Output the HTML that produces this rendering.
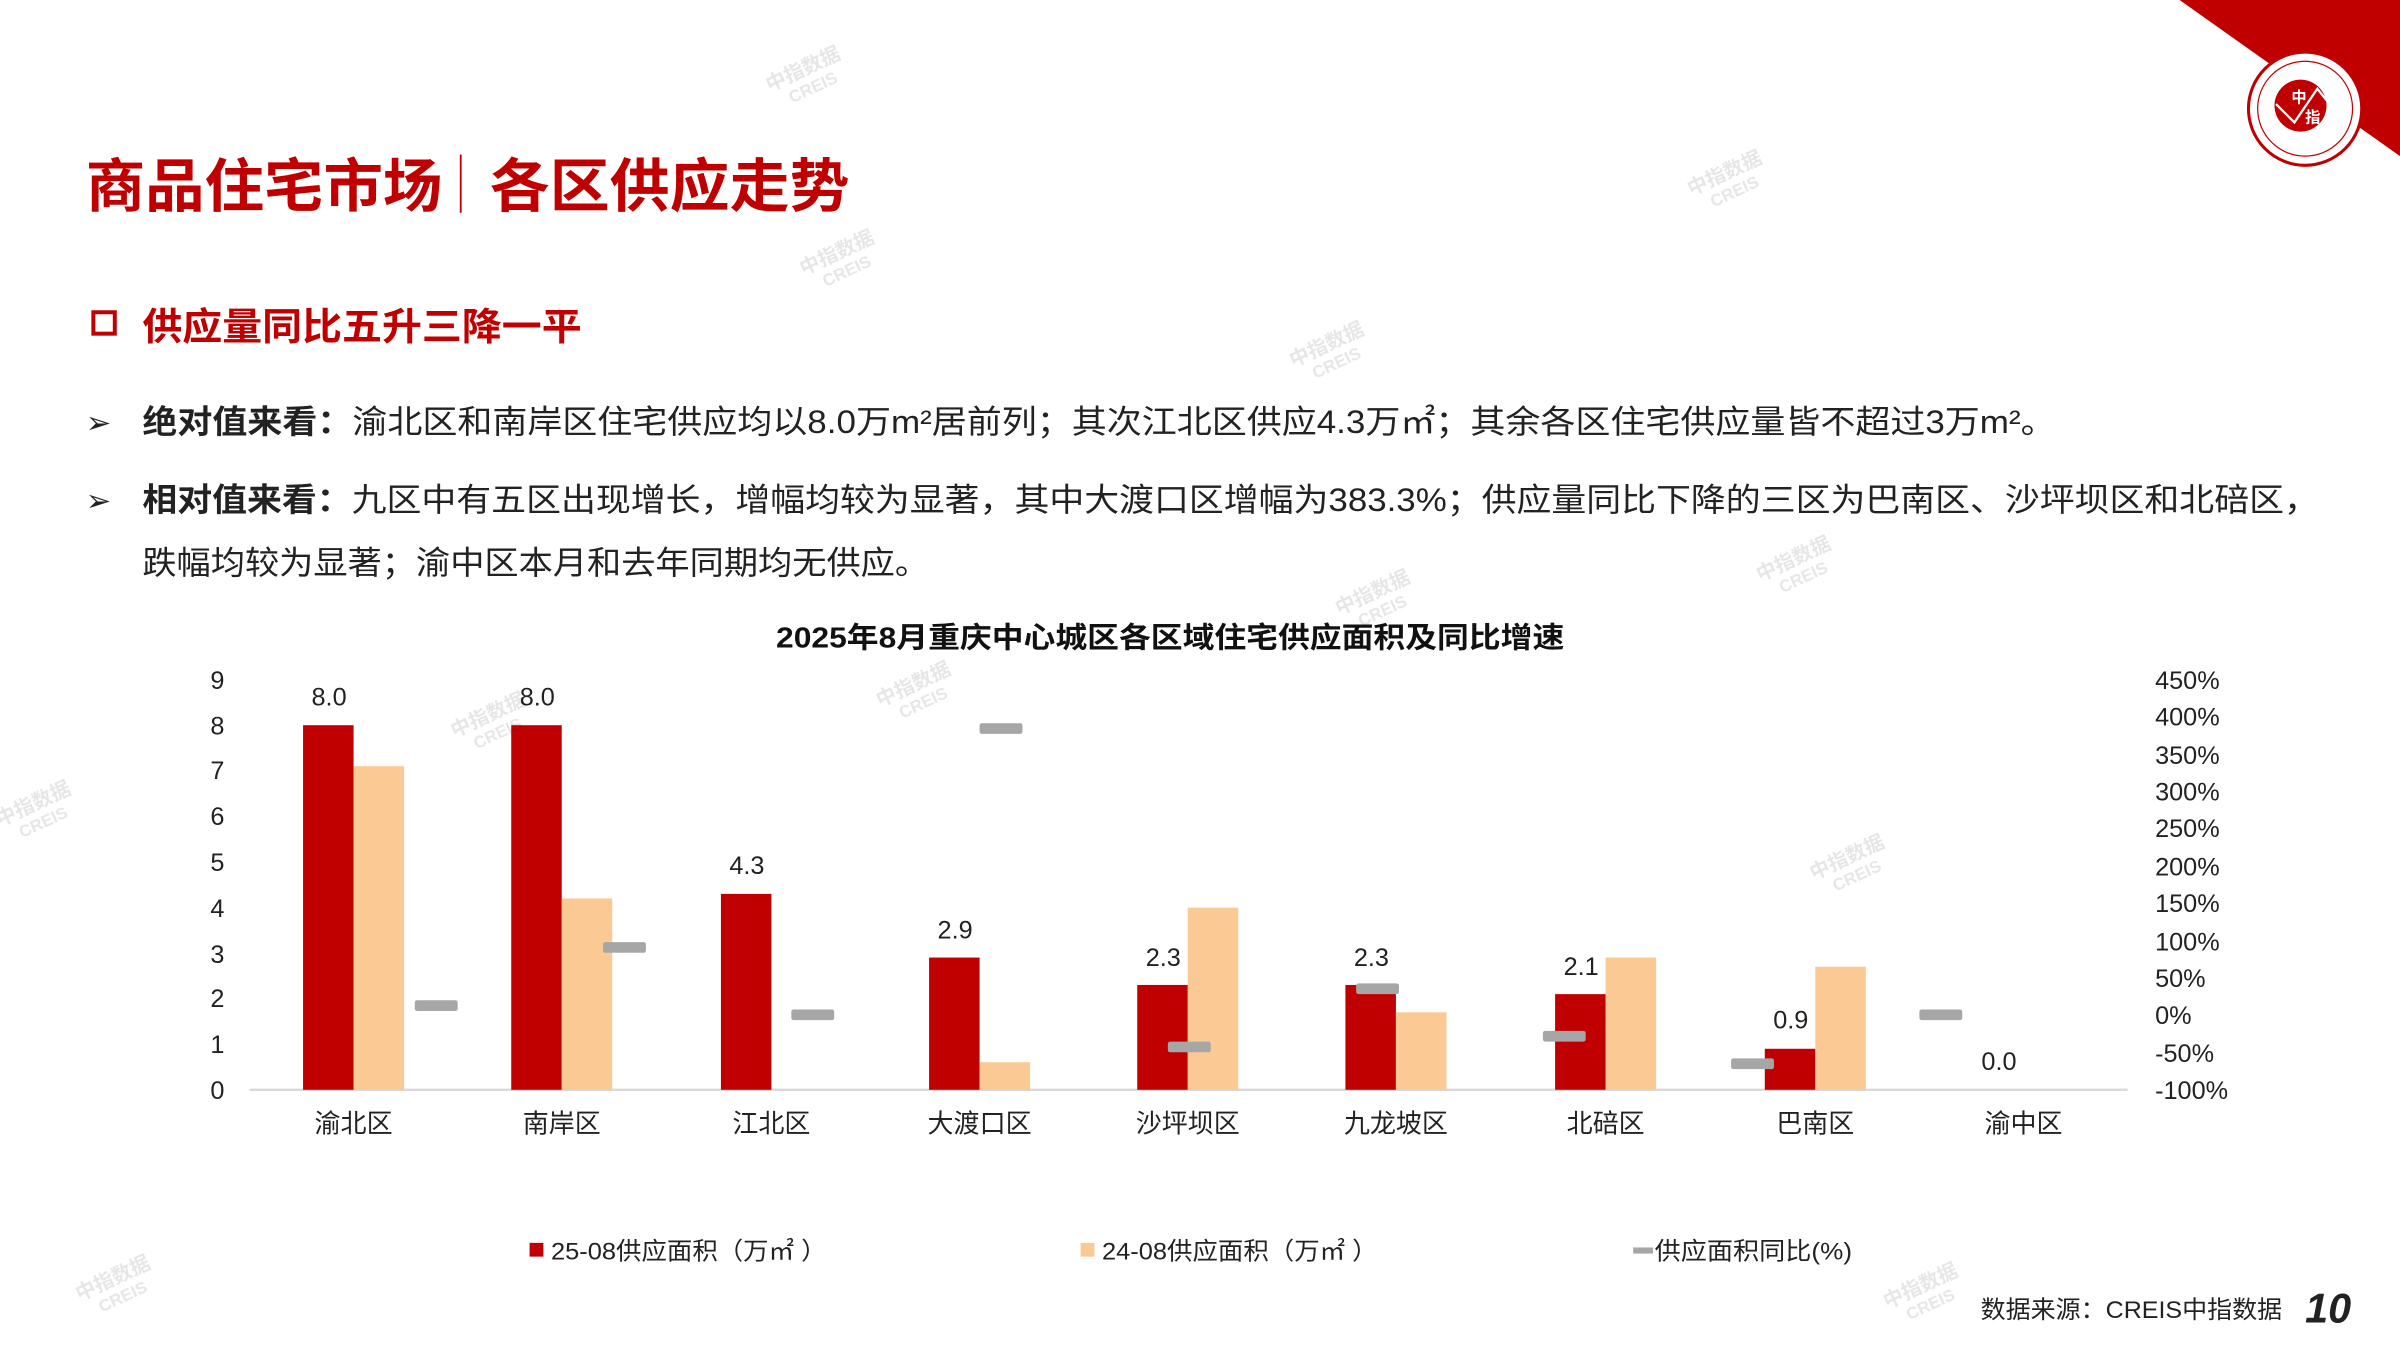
<!DOCTYPE html>
<html><head><meta charset="utf-8"><style>
html,body{margin:0;padding:0;background:#fff;}
svg{display:block;}
text{font-family:"Liberation Sans","Noto Sans CJK SC",sans-serif;}
</style></head><body>
<svg width="2400" height="1350" viewBox="0 0 1568 882" xmlns="http://www.w3.org/2000/svg">
<rect width="1568" height="882" fill="#fff"/>
<!-- corner -->
<polygon points="1424,0 1568,0 1568,102" fill="#c00000"/>
<circle cx="1506" cy="71" r="37" fill="#fff" stroke="#c00000" stroke-width="2"/>
<circle cx="1506" cy="71" r="31" fill="none" stroke="#c00000" stroke-width="0.8"/>
<circle cx="1503" cy="69" r="17" fill="#c00000"/>
<polyline points="1487,68 1499,80 1514,58 1522,68" fill="none" stroke="#fff" stroke-width="1.5"/>
<text x="1497" y="67" font-size="10" fill="#fff" font-weight="bold">中</text>
<text x="1506" y="80" font-size="10" fill="#fff" font-weight="bold">指</text>
<!-- title -->
<text x="56" y="135" font-size="38" font-weight="bold" fill="#c00000" textLength="233" lengthAdjust="spacingAndGlyphs">商品住宅市场</text>
<line x1="301" y1="101" x2="301" y2="139" stroke="#c00000" stroke-width="1.2"/>
<text x="320" y="135" font-size="38" font-weight="bold" fill="#c00000" textLength="235" lengthAdjust="spacingAndGlyphs">各区供应走势</text>
<rect x="61" y="204" width="14" height="14" fill="none" stroke="#c00000" stroke-width="2.6"/>
<text x="93" y="222" font-size="25" font-weight="bold" fill="#c00000" textLength="287" lengthAdjust="spacingAndGlyphs">供应量同比五升三降一平</text>
<!-- bullets -->
<g font-size="21" fill="#222">
<text x="56" y="283" font-size="20">➢</text>
<text x="93" y="283" textLength="1250" lengthAdjust="spacingAndGlyphs"><tspan font-weight="bold">绝对值来看：</tspan>渝北区和南岸区住宅供应均以8.0万m²居前列；其次江北区供应4.3万㎡；其余各区住宅供应量皆不超过3万m²。</text>
<text x="56" y="334" font-size="20">➢</text>
<text x="93" y="334" textLength="1422" lengthAdjust="spacingAndGlyphs"><tspan font-weight="bold">相对值来看：</tspan>九区中有五区出现增长，增幅均较为显著，其中大渡口区增幅为383.3%；供应量同比下降的三区为巴南区、沙坪坝区和北碚区，</text>
<text x="93" y="375" textLength="514" lengthAdjust="spacingAndGlyphs">跌幅均较为显著；渝中区本月和去年同期均无供应。</text>
</g>
<!-- chart title -->
<text x="507" y="423" font-size="19" font-weight="bold" fill="#111" textLength="515" lengthAdjust="spacingAndGlyphs">2025年8月重庆中心城区各区域住宅供应面积及同比增速</text>
<!-- left axis -->
<g font-size="16.5" fill="#222" text-anchor="middle">
<text x="142" y="718">0</text><text x="142" y="688">1</text><text x="142" y="658">2</text><text x="142" y="629">3</text><text x="142" y="599">4</text><text x="142" y="569">5</text><text x="142" y="539">6</text><text x="142" y="509">7</text><text x="142" y="480">8</text><text x="142" y="450">9</text>
</g>
<g font-size="16.5" fill="#222">
<text x="1408" y="718">-100%</text><text x="1408" y="694">-50%</text><text x="1408" y="669">0%</text><text x="1408" y="645">50%</text><text x="1408" y="621">100%</text><text x="1408" y="596">150%</text><text x="1408" y="572">200%</text><text x="1408" y="547">250%</text><text x="1408" y="523">300%</text><text x="1408" y="499">350%</text><text x="1408" y="474">400%</text><text x="1408" y="450">450%</text>
</g>
<line x1="163" y1="712" x2="1390" y2="712" stroke="#d9d9d9" stroke-width="1.5"/>
<g fill="#c00000">
<rect x="198" y="473.8" width="33" height="238.2"/>
<rect x="334" y="473.8" width="33" height="238.2"/>
<rect x="471" y="584" width="33" height="128"/>
<rect x="607" y="625.6" width="33" height="86.4"/>
<rect x="743" y="643.5" width="33" height="68.5"/>
<rect x="879" y="643.5" width="33" height="68.5"/>
<rect x="1016" y="649.5" width="33" height="62.5"/>
<rect x="1153" y="685.2" width="33" height="26.8"/>
</g>
<g fill="#fbc993">
<rect x="231" y="500.6" width="33" height="211.4"/>
<rect x="367" y="587" width="33" height="125"/>
<rect x="640" y="694" width="33" height="18"/>
<rect x="776" y="593" width="33" height="119"/>
<rect x="912" y="661.4" width="33" height="50.6"/>
<rect x="1049" y="625.6" width="33" height="86.4"/>
<rect x="1186" y="631.6" width="33" height="80.4"/>
</g>
<g fill="#a6a6a6">
<rect x="271" y="653.5" width="28" height="7" rx="1.5"/>
<rect x="394" y="615.5" width="28" height="7" rx="1.5"/>
<rect x="517" y="659.5" width="28" height="7" rx="1.5"/>
<rect x="640" y="472.5" width="28" height="7" rx="1.5"/>
<rect x="763" y="680.5" width="28" height="7" rx="1.5"/>
<rect x="886" y="642.5" width="28" height="7" rx="1.5"/>
<rect x="1008" y="673.5" width="28" height="7" rx="1.5"/>
<rect x="1131" y="691.5" width="28" height="7" rx="1.5"/>
<rect x="1254" y="659.5" width="28" height="7" rx="1.5"/>
</g>
<g font-size="16.5" fill="#222" text-anchor="middle">
<text x="215" y="461">8.0</text><text x="351" y="461">8.0</text><text x="488" y="571">4.3</text><text x="624" y="613">2.9</text><text x="760" y="631">2.3</text><text x="896" y="631">2.3</text><text x="1033" y="637">2.1</text><text x="1170" y="672">0.9</text><text x="1306" y="699">0.0</text>
</g>
<g font-size="17" fill="#222" text-anchor="middle">
<text x="231" y="740">渝北区</text><text x="367" y="740">南岸区</text><text x="504" y="740">江北区</text><text x="640" y="740">大渡口区</text><text x="776" y="740">沙坪坝区</text><text x="912" y="740">九龙坡区</text><text x="1049" y="740">北碚区</text><text x="1186" y="740">巴南区</text><text x="1322" y="740">渝中区</text>
</g>
<!-- legend -->
<rect x="346" y="812" width="9" height="9" fill="#c00000"/>
<text x="360" y="823" font-size="16" fill="#222" textLength="180" lengthAdjust="spacingAndGlyphs">25-08供应面积（万㎡ ）</text>
<rect x="706" y="812" width="9" height="9" fill="#fbc993"/>
<text x="720" y="823" font-size="16" fill="#222" textLength="180" lengthAdjust="spacingAndGlyphs">24-08供应面积（万㎡ ）</text>
<rect x="1067" y="815" width="13" height="4" fill="#a6a6a6"/>
<text x="1081" y="823" font-size="16" fill="#222" textLength="129" lengthAdjust="spacingAndGlyphs">供应面积同比(%)</text>
<!-- footer -->
<text x="1294" y="861" font-size="16" fill="#222" textLength="197" lengthAdjust="spacingAndGlyphs">数据来源：CREIS中指数据</text>
<text x="1506" y="864" font-size="27" font-weight="bold" font-style="italic" fill="#222">10</text>
<!-- watermarks -->
<g fill="#000" opacity="0.1" font-size="13" font-weight="bold">
<g transform="translate(503,60) rotate(-25)"><text>中指数据</text><text x="10" y="13" font-size="11">CREIS</text></g>
<g transform="translate(1105,128) rotate(-25)"><text>中指数据</text><text x="10" y="13" font-size="11">CREIS</text></g>
<g transform="translate(525,180) rotate(-25)"><text>中指数据</text><text x="10" y="13" font-size="11">CREIS</text></g>
<g transform="translate(845,240) rotate(-25)"><text>中指数据</text><text x="10" y="13" font-size="11">CREIS</text></g>
<g transform="translate(1150,380) rotate(-25)"><text>中指数据</text><text x="10" y="13" font-size="11">CREIS</text></g>
<g transform="translate(875,402) rotate(-25)"><text>中指数据</text><text x="10" y="13" font-size="11">CREIS</text></g>
<g transform="translate(575,462) rotate(-25)"><text>中指数据</text><text x="10" y="13" font-size="11">CREIS</text></g>
<g transform="translate(297,482) rotate(-25)"><text>中指数据</text><text x="10" y="13" font-size="11">CREIS</text></g>
<g transform="translate(0,540) rotate(-25)"><text>中指数据</text><text x="10" y="13" font-size="11">CREIS</text></g>
<g transform="translate(1185,575) rotate(-25)"><text>中指数据</text><text x="10" y="13" font-size="11">CREIS</text></g>
<g transform="translate(52,850) rotate(-25)"><text>中指数据</text><text x="10" y="13" font-size="11">CREIS</text></g>
<g transform="translate(1233,855) rotate(-25)"><text>中指数据</text><text x="10" y="13" font-size="11">CREIS</text></g>
</g>
</svg>
</body></html>
